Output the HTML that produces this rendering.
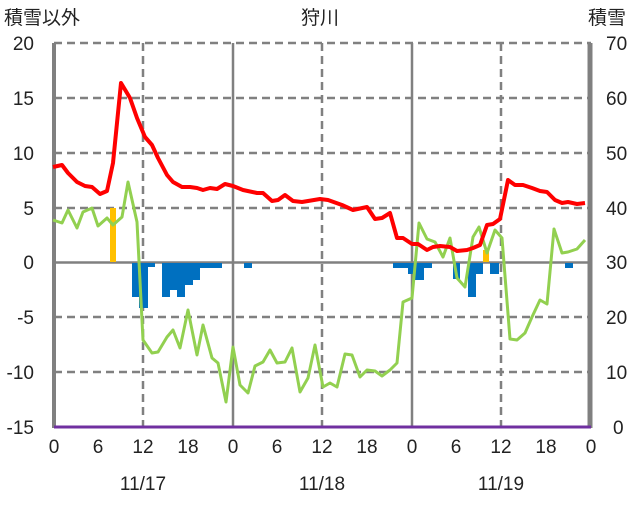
<!DOCTYPE html>
<html><head><meta charset="utf-8"><style>
body{margin:0;background:#fff;}
svg text{font-family:"Liberation Sans","Noto Sans CJK JP",sans-serif;font-size:19px;fill:#222;}
</style></head><body>
<svg width="636" height="501" xmlns="http://www.w3.org/2000/svg">
<g stroke="#808080" stroke-width="2.5" stroke-dasharray="8,5">
<line x1="54" y1="43" x2="591" y2="43"/><line x1="54" y1="98" x2="591" y2="98"/>
<line x1="54" y1="153" x2="591" y2="153"/><line x1="54" y1="208" x2="591" y2="208"/>
<line x1="54" y1="317" x2="591" y2="317"/><line x1="54" y1="372" x2="591" y2="372"/>
<line x1="143" y1="43" x2="143" y2="427"/><line x1="322" y1="43" x2="322" y2="427"/><line x1="501" y1="43" x2="501" y2="427"/>
</g>
<g stroke="#808080" stroke-width="2.5">
<line x1="233" y1="43" x2="233" y2="427"/><line x1="412" y1="43" x2="412" y2="427"/>
<line x1="54" y1="262.5" x2="591" y2="262.5"/>
</g>
<line x1="54" y1="43" x2="54" y2="428" stroke="#808080" stroke-width="4"/>
<line x1="590" y1="43" x2="590" y2="428" stroke="#808080" stroke-width="5"/>
<g fill="#FFC000"><rect x="110" y="208" width="6" height="54"/><rect x="483" y="250" width="6" height="12"/></g>
<g fill="#0070C0">
<rect x="132" y="263" width="8" height="34"/><rect x="139" y="263" width="9" height="45"/><rect x="148" y="263" width="7" height="4"/>
<rect x="162" y="263" width="8" height="34"/><rect x="170" y="263" width="7" height="27"/><rect x="177" y="263" width="8" height="34"/>
<rect x="185" y="263" width="8" height="22"/><rect x="193" y="263" width="7" height="17"/><rect x="200" y="263" width="7" height="5"/>
<rect x="207" y="263" width="15" height="5"/><rect x="244" y="263" width="8" height="5"/>
<rect x="393" y="263" width="15" height="5"/><rect x="408" y="263" width="7" height="11"/><rect x="415" y="263" width="9" height="17"/>
<rect x="424" y="263" width="8" height="5"/><rect x="453" y="263" width="7" height="16"/><rect x="468" y="263" width="8" height="34"/>
<rect x="476" y="263" width="7" height="11"/><rect x="490" y="263" width="9" height="11"/><rect x="565" y="263" width="8" height="5"/>
</g>
<polyline fill="none" stroke="#92D050" stroke-width="3" stroke-linejoin="round" points="53,220 62,223 68,210 77,228 83,212 92,208 98,226 107,218 113,225 122,217 128,182 137,222 143,340 152,353 158,352 167,337 173,330 180,348 188,310 197,355 203,325 212,358 218,363 226,402 233,347 240,385 248,393 255,366 263,362 270,350 277,363 285,362 292,348 300,392 308,378 315,345 323,387 330,383 337,387 345,354 352,355 360,377 367,370 375,371 382,376 390,370 397,363 403,302 412,298 419,223 427,239 435,242 443,257 450,238 457,278 465,287 473,237 479,227 487,253 495,230 502,238 510,339 517,340 525,333 532,317 540,300 547,304 554,229 562,253 568,252 577,249 585,240"/>
<polyline fill="none" stroke="#FF0000" stroke-width="4" stroke-linejoin="round" points="53,167 62,165 68,173 77,182 85,186 92,187 100,194 107,191 113,163 121,83 130,98 137,118 145,137 152,145 158,158 167,175 173,182 182,187 190,187 197,188 203,190 210,188 217,189 225,184 233,186 243,190 257,193 263,193 272,201 278,200 285,195 293,201 302,202 320,199 328,200 342,205 353,210 367,207 375,219 382,218 390,213 397,238 403,238 412,244 418,244 427,250 433,247 440,246 450,247 457,251 467,250 473,248 480,245 487,225 493,224 500,219 508,180 515,185 523,185 532,188 540,191 547,192 555,200 562,203 568,202 577,204 585,203"/>
<line x1="54" y1="427" x2="591" y2="427" stroke="#7030A0" stroke-width="3"/>
<g text-anchor="end">
<text x="34" y="50">20</text><text x="34" y="105">15</text><text x="34" y="160">10</text><text x="34" y="215">5</text>
<text x="34" y="269">0</text><text x="34" y="324">-5</text><text x="34" y="379">-10</text><text x="34" y="434">-15</text>
</g>
<g text-anchor="start">
<text x="606" y="50">70</text><text x="606" y="105">60</text><text x="606" y="160">50</text><text x="606" y="215">40</text>
<text x="606" y="269">30</text><text x="606" y="324">20</text><text x="606" y="379">10</text><text x="613" y="434">0</text>
</g>
<g text-anchor="middle">
<text x="54" y="453">0</text><text x="98" y="453">6</text><text x="143" y="453">12</text><text x="188" y="453">18</text>
<text x="233" y="453">0</text><text x="277" y="453">6</text><text x="322" y="453">12</text><text x="367" y="453">18</text>
<text x="412" y="453">0</text><text x="456" y="453">6</text><text x="501" y="453">12</text><text x="546" y="453">18</text><text x="591" y="453">0</text>
<text x="143" y="490">11/17</text><text x="322" y="490">11/18</text><text x="501" y="490">11/19</text>
<text x="320" y="24">狩川</text>
</g>
<text x="4" y="24">積雪以外</text>
<text x="588" y="24">積雪</text>
</svg>
</body></html>
